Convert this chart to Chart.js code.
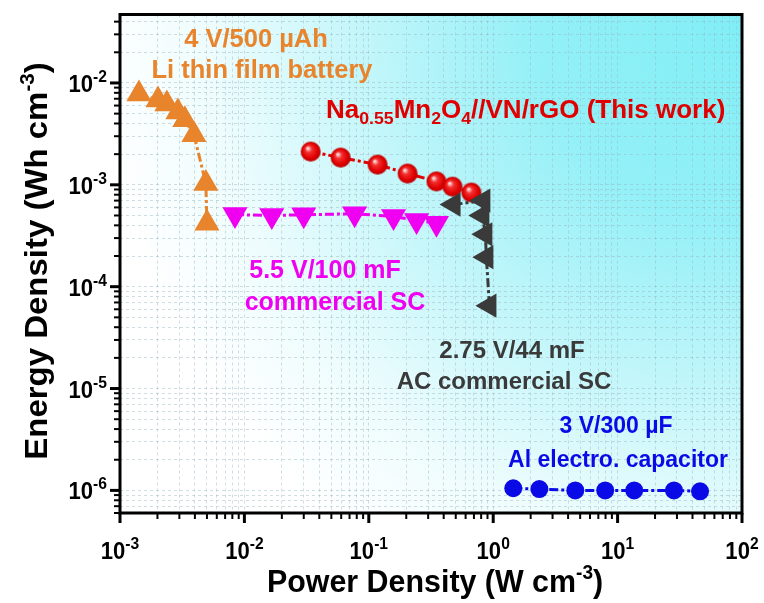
<!DOCTYPE html>
<html><head><meta charset="utf-8">
<script src="https://cdn.jsdelivr.net/npm/chart.js@4.4.0/dist/chart.umd.min.js"></script>
<style>html,body{margin:0;padding:0;background:#fff;}#wrap{width:764px;height:603px;}</style>
</head><body><div id="wrap"><canvas id="c" width="764" height="603"></canvas></div>
<script>
// ---- data ----
const liPower   = [0.00142, 0.00202, 0.00238, 0.00292, 0.00332, 0.00393, 0.0049, 0.0050];
const liEnergy  = [0.0078, 0.0068, 0.0062, 0.0052, 0.00435, 0.0031, 0.00103, 0.00042];
const scPower   = [0.0084, 0.0166, 0.030, 0.0769, 0.158, 0.242, 0.350];
const scEnergy  = [0.00051, 0.000500, 0.000508, 0.00052, 0.00049, 0.000446, 0.00042];
const naPower   = [0.0341, 0.0594, 0.1177, 0.205, 0.350, 0.471, 0.668];
const naEnergy  = [0.00212, 0.00185, 0.00158, 0.00129, 0.00108, 0.00096, 0.00084];
const acPower   = [0.48, 0.834, 0.818, 0.865, 0.881, 0.933];
const acEnergy  = [0.00064, 0.00070, 0.00050, 0.000327, 0.000195, 0.000065];
const alPower   = [1.45, 2.35, 4.57, 7.95, 13.6, 28.4, 46.0];
const alEnergy  = [1.05e-6, 1.03e-6, 1.0e-6, 1.0e-6, 1.0e-6, 1.0e-6, 0.98e-6];
const xTickExps = [-3, -2, -1, 0, 1, 2];
const yTickExps = [-6, -5, -4, -3, -2];
const xRange = [1e-3, 1e2];
const yRange = [6e-7, 0.047];

const FONT = '"Liberation Sans", Arial, sans-serif';
function pts(xs, ys){ return xs.map((x,i)=>({x:x, y:ys[i]})); }

function sphere(r){
  const s = 2*r+2, c = document.createElement('canvas');
  c.width = s; c.height = s;
  const g = c.getContext('2d');
  const gr = g.createRadialGradient(r*0.7+1, r*0.65+1, r*0.05, r+1, r+1, r);
  gr.addColorStop(0, '#ffe8e8');
  gr.addColorStop(0.3, '#f23030');
  gr.addColorStop(0.75, '#e00000');
  gr.addColorStop(1, '#b80000');
  g.fillStyle = gr; g.beginPath(); g.arc(r+1, r+1, r, 0, Math.PI*2); g.fill();
  return c;
}

function logTicks(min, max){
  const out = [];
  for (let e = Math.floor(Math.log10(min)); e <= Math.ceil(Math.log10(max)); e++){
    for (let m = 1; m <= 9; m++){
      const v = m * Math.pow(10, e);
      if (v >= min*0.9999 && v <= max*1.0001) out.push({value: v});
    }
  }
  return out;
}

const dash = [9, 3, 3, 3];
const datasets = [
  {data: pts(liPower, liEnergy), showLine: true, borderColor: '#e8842c', backgroundColor: '#e8842c',
   borderWidth: 3, borderDash: dash, pointStyle: 'triangle', pointRadius: 14.5, pointBorderWidth: 0, pointRotation: 0},
  {data: pts(scPower, scEnergy), showLine: true, borderColor: '#f000f0', backgroundColor: '#f000f0',
   borderWidth: 3, borderDash: dash, pointStyle: 'triangle', pointRadius: 14.5, pointBorderWidth: 0, pointRotation: 180},
  {data: pts(acPower, acEnergy), showLine: true, borderColor: '#3a3a3a', backgroundColor: '#3a3a3a',
   borderWidth: 3, borderDash: dash, pointStyle: 'triangle', pointRadius: 14, pointBorderWidth: 0, pointRotation: 270},
  {data: pts(naPower, naEnergy), showLine: true, borderColor: '#e00000', backgroundColor: '#e00000',
   borderWidth: 3, borderDash: dash, pointStyle: sphere(10), pointRadius: 10, pointBorderWidth: 0},
  {data: pts(alPower, alEnergy), showLine: true, borderColor: '#0a0ae6', backgroundColor: '#0a0ae6',
   borderWidth: 3, borderDash: dash, pointStyle: 'circle', pointRadius: 9, pointBorderWidth: 0}
];

const annotations = [
  {lines: ['4 V/500 µAh', 'Li thin film battery'], color: '#e8842c', size: 25.5, x: [256, 262], y: [47, 78]},
  {lines: ['5.5 V/100 mF', 'commercial SC'], color: '#f000f0', size: 25, x: [325, 335], y: [278, 310]},
  {lines: ['2.75 V/44 mF', 'AC commercial SC'], color: '#3a3a3a', size: 24, x: [512, 504], y: [358, 389]},
  {lines: ['3 V/300 µF', 'Al electro. capacitor'], color: '#0a0ae6', size: 23, x: [616, 618], y: [433, 467]}
];

function drawRich(ctx, parts, x, y, align, sx){
  sx = sx || 1;
  let total = 0;
  const widths = parts.map(p => { ctx.font = p.font; const w = ctx.measureText(p.t).width * sx; total += w; return w; });
  let cx = align === 'center' ? x - total/2 : (align === 'right' ? x - total : x);
  parts.forEach((p, i) => {
    ctx.font = p.font;
    ctx.save(); ctx.translate(cx, y + (p.dy||0)); ctx.scale(sx, 1); ctx.fillText(p.t, 0, 0); ctx.restore();
    cx += widths[i];
  });
}

const decor = {
  id: 'decor',
  beforeDraw(chart){
    const {ctx, chartArea: a} = chart;
    ctx.save();
    const g = ctx.createRadialGradient(a.right, a.top, 0, a.right, a.top, 650);
    g.addColorStop(0, '#80eef6');
    g.addColorStop(0.32, '#94f0f7');
    g.addColorStop(0.58, '#c2f6fa');
    g.addColorStop(0.82, '#eefcfd');
    g.addColorStop(1, '#ffffff');
    ctx.fillStyle = g;
    ctx.fillRect(a.left, a.top, a.right - a.left, a.bottom - a.top);
    ctx.restore();
  },
  afterDraw(chart){
    const {ctx, chartArea: a, scales} = chart;
    const xs = scales.x, ys = scales.y;
    ctx.save();
    ctx.strokeStyle = '#000'; ctx.fillStyle = '#000';
    xs.ticks.forEach(t => {
      const px = xs.getPixelForValue(t.value);
      const major = Math.abs(Math.log10(t.value) - Math.round(Math.log10(t.value))) < 1e-6;
      ctx.lineWidth = major ? 3 : 2;
      ctx.beginPath(); ctx.moveTo(px, a.bottom); ctx.lineTo(px, a.bottom + (major ? 10 : 6)); ctx.stroke();
    });
    ys.ticks.forEach(t => {
      const py = ys.getPixelForValue(t.value);
      const major = Math.abs(Math.log10(t.value) - Math.round(Math.log10(t.value))) < 1e-6;
      ctx.lineWidth = major ? 3 : 2;
      ctx.beginPath(); ctx.moveTo(a.left, py); ctx.lineTo(a.left - (major ? 10 : 6), py); ctx.stroke();
    });
    ctx.lineWidth = 3;
    ctx.strokeRect(a.left, a.top, a.right - a.left, a.bottom - a.top);
    ctx.textBaseline = 'alphabetic';
    const big = 'bold 24px ' + FONT, small = 'bold 17px ' + FONT;
    xTickExps.forEach(e => {
      const px = xs.getPixelForValue(Math.pow(10, e));
      drawRich(ctx, [{t:'10', font: big}, {t: String(e), font: small, dy: -10}], px, 559, 'center', 0.92);
    });
    yTickExps.forEach(e => {
      const py = ys.getPixelForValue(Math.pow(10, e));
      drawRich(ctx, [{t:'10', font: big}, {t: String(e), font: small, dy: -10}], 107, py + 9, 'right', 0.92);
    });
    const tf = 'bold 32px ' + FONT, ts = 'bold 20px ' + FONT;
    drawRich(ctx, [{t:'Power Density (W cm', font: tf}, {t:'-3', font: ts, dy: -13}, {t:')', font: tf}], 435, 592, 'center', 0.95);
    ctx.save();
    ctx.translate(47, 261); ctx.rotate(-Math.PI/2);
    drawRich(ctx, [{t:'Energy Density (Wh cm', font: tf}, {t:'-3', font: ts, dy: -13}, {t:')', font: tf}], 0, 0, 'center', 1.03);
    ctx.restore();
    annotations.forEach(an => {
      const af = 'bold ' + an.size + 'px ' + FONT;
      ctx.fillStyle = an.color;
      an.lines.forEach((l, i) => drawRich(ctx, [{t: l, font: af}], an.x[i], an.y[i], 'center'));
    });
    ctx.fillStyle = '#e00000';
    const rf = 'bold 25px ' + FONT, rs = 'bold 17px ' + FONT;
    drawRich(ctx, [
      {t:'Na', font: rf}, {t:'0.55', font: rs, dy: 6}, {t:'Mn', font: rf}, {t:'2', font: rs, dy: 6},
      {t:'O', font: rf}, {t:'4', font: rs, dy: 6}, {t:'//VN/rGO (This work)', font: rf}
    ], 326, 118, 'left', 1.04);
    ctx.restore();
  }
};

new Chart(document.getElementById('c'), {
  type: 'scatter',
  data: {datasets},
  options: {
    responsive: false, animation: false, devicePixelRatio: 1,
    layout: {padding: {top: 12, right: 22, left: 0, bottom: 0}},
    plugins: {legend: {display: false}, tooltip: {enabled: false}},
    scales: {
      x: {type: 'logarithmic', min: xRange[0], max: xRange[1],
          afterBuildTicks: s => { s.ticks = logTicks(xRange[0], xRange[1]); },
          afterFit: s => { s.height = 90; },
          ticks: {display: false},
          grid: {color: 'rgba(150,180,190,0.45)', lineWidth: 1, drawTicks: false},
          border: {display: false, dash: [3, 3]}},
      y: {type: 'logarithmic', min: yRange[0], max: yRange[1],
          afterBuildTicks: s => { s.ticks = logTicks(yRange[0], yRange[1]); },
          afterFit: s => { s.width = 120; },
          ticks: {display: false},
          grid: {color: 'rgba(150,180,190,0.45)', lineWidth: 1, drawTicks: false},
          border: {display: false, dash: [3, 3]}}
    }
  },
  plugins: [decor]
});
</script>
</body></html>
